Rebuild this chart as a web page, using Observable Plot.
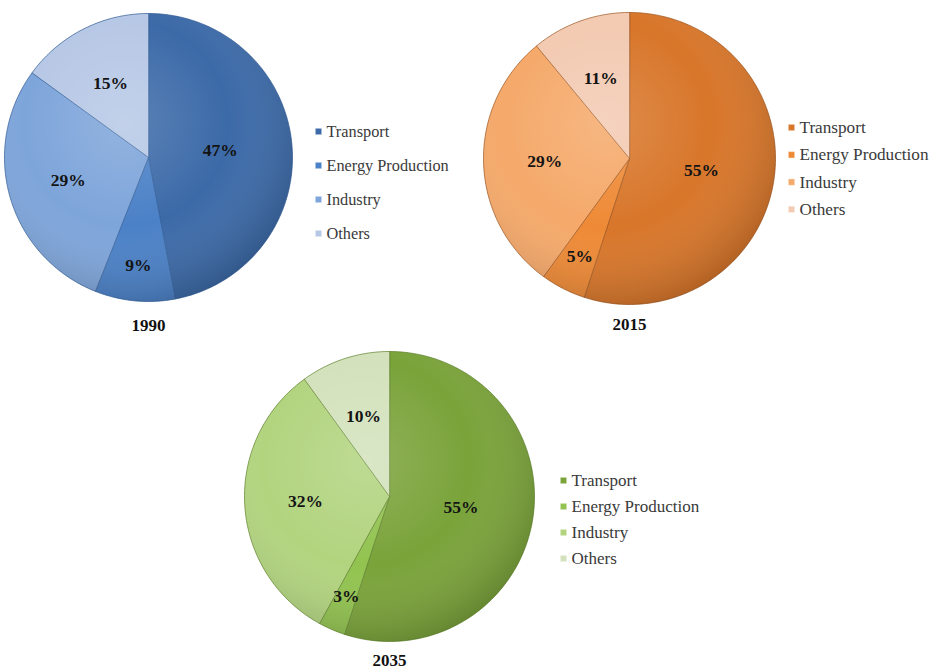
<!DOCTYPE html>
<html>
<head>
<meta charset="utf-8">
<script src="https://cdn.jsdelivr.net/npm/d3@7"></script>
<script src="https://cdn.jsdelivr.net/npm/@observablehq/plot@0.6"></script>
<style>
  html, body { margin: 0; padding: 0; background: #fff; }
  #chart { width: 932px; height: 670px; }
</style>
</head>
<body>
<div id="chart"></div>
<script>
// ---------- data ----------
const categories = ["Transport", "Energy Production", "Industry", "Others"];
const years = ["1990", "2015", "2035"];
const values1990 = [47, 9, 29, 15];
const values2015 = [55, 5, 29, 11];
const values2035 = [55, 3, 32, 10];

// ---------- styles / layout ----------
const palettes = {
  "1990": ["#3c6aa8", "#4b81c7", "#7ea5da", "#b7c8e6"],
  "2015": ["#d8762a", "#ee8a36", "#f5a96a", "#f3cab2"],
  "2035": ["#7aa33a", "#92c350", "#b2d47f", "#d3e2bc"]
};
const edgeColor = { "1990": "#2f5a93", "2015": "#9a531c", "2035": "#5d7f2a" };
const layout = {
  "1990": { cx: 148, cy: 157, r: 144, lx: 318, ly: 131, step: 34, yearY: 325, fs: 16.3 },
  "2015": { cx: 629, cy: 158, r: 146, lx: 791, ly: 127, step: 27.3, yearY: 324, fs: 17.2 },
  "2035": { cx: 389, cy: 496, r: 145, lx: 563, ly: 480, step: 26, yearY: 660, fs: 17 }
};
const seriesByYear = { "1990": values1990, "2015": values2015, "2035": values2035 };

// ---------- build geometry from values ----------
const slicePts = [];
const labels = [];
const legend = [];
const yearLabels = [];
const colorDomain = [];
const colorRange = [];
for (const yr of years) {
  const vals = seriesByYear[yr];
  const L = layout[yr];
  const total = d3.sum(vals);
  let acc = 0;
  vals.forEach((v, i) => {
    const key = yr + "-" + categories[i];
    colorDomain.push(key);
    colorRange.push(palettes[yr][i]);
    const a0 = (acc / total) * 2 * Math.PI;
    const a1 = ((acc + v) / total) * 2 * Math.PI;
    slicePts.push({ key, yr, x: L.cx, y: L.cy });
    const n = Math.max(2, Math.ceil((a1 - a0) / (Math.PI / 180)));
    for (let k = 0; k <= n; k++) {
      const a = a0 + (a1 - a0) * k / n;
      slicePts.push({ key, yr, x: L.cx + L.r * Math.sin(a), y: L.cy - L.r * Math.cos(a) });
    }
    const am = (a0 + a1) / 2;
    const share = v / total;
    const f = share >= 0.4 ? 0.5 : share < 0.1 ? 0.75 : 0.58;
    labels.push({ x: L.cx + f * L.r * Math.sin(am), y: L.cy - f * L.r * Math.cos(am), text: v + "%" });
    legend.push({ key, yr, x: L.lx, y: L.ly + i * L.step, text: categories[i] });
    acc += v;
  });
  yearLabels.push({ x: L.cx, y: L.yearY, text: yr });
}

// gradient defs for the soft shading of the pies
function defs() {
  const ns = "http://www.w3.org/2000/svg";
  const d = document.createElementNS(ns, "defs");
  d.innerHTML = `
    <radialGradient id="shade" cx="42%" cy="38%" r="65%">
      <stop offset="0%" stop-color="#fff" stop-opacity="0.16"/>
      <stop offset="55%" stop-color="#fff" stop-opacity="0"/>
      <stop offset="100%" stop-color="#000" stop-opacity="0.18"/>
    </radialGradient>`;
  return d;
}

const font = "'Liberation Serif', 'Times New Roman', serif";

const chart = Plot.plot({
  width: 932,
  height: 670,
  margin: 0,
  style: { background: "#fff", fontFamily: font },
  x: { domain: [0, 932], range: [0, 932], axis: null },
  y: { domain: [0, 670], range: [0, 670], axis: null },
  color: { domain: colorDomain, range: colorRange },
  marks: [
    defs,
    ...years.map(yr => Plot.line(slicePts.filter(d => d.yr === yr), {
      x: "x", y: "y", z: "key", fill: "key",
      stroke: edgeColor[yr], strokeWidth: 1, strokeOpacity: 0.7,
      curve: "linear-closed"
    })),
    ...years.map(yr => Plot.dot(yearLabels.filter(d => d.text === yr), {
      x: d => layout[d.text].cx, y: d => layout[d.text].cy,
      r: layout[yr].r, fill: "url(#shade)", stroke: "none"
    })),
    Plot.text(labels, {
      x: "x", y: "y", text: "text", fontSize: 17.5, fontWeight: "bold",
      fill: "#141414", fontFamily: font
    }),
    Plot.dot(legend, {
      x: "x", y: "y", symbol: "square", r: 3.6, fill: "key",
      stroke: "#ffffff", strokeOpacity: 0.5, strokeWidth: 0.8
    }),
    Plot.text(legend, {
      x: "x", y: "y", text: "text", dx: 8, textAnchor: "start",
      fontSize: d => layout[d.yr].fs, fill: "#3a3a3a", fontFamily: font
    }),
    Plot.text(yearLabels, {
      x: "x", y: "y", text: "text", fontSize: 17, fontWeight: "bold",
      fill: "#111", fontFamily: font
    })
  ]
});
document.getElementById("chart").appendChild(chart);
</script>
</body>
</html>
